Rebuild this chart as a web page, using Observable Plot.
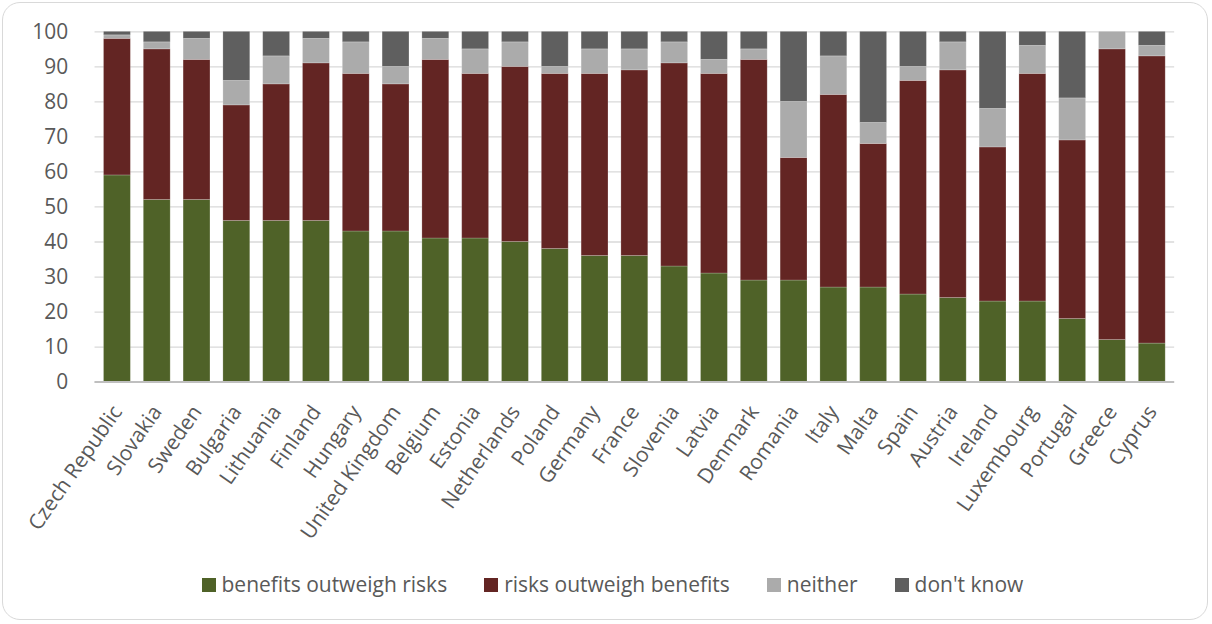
<!DOCTYPE html>
<html>
<head>
<meta charset="utf-8">
<script src="https://cdn.jsdelivr.net/npm/d3@7"></script>
<script src="https://cdn.jsdelivr.net/npm/@observablehq/plot@0.6"></script>
<style>
  html, body { margin: 0; padding: 0; background: #fff; }
  #frame {
    position: relative; width: 1206px; height: 618px; margin: 2px;
    border: 1.5px solid #d9d9d9; border-radius: 18px; box-sizing: border-box; overflow: hidden;
    font-family: "Open Sans", sans-serif;
  }
  #chart { position: absolute; left: -2px; top: -2px; }
  #legend {
    position: absolute; top: 567px; left: 198.5px;
    display: flex; align-items: center; font-size: 21px; line-height: 29px; color: #595959;
    white-space: nowrap;
  }
  .item { display: flex; align-items: center; margin-right: 37px; }
  .sw { width: 14px; height: 14px; margin-right: 6px; }
</style>
</head>
<body>
<div id="frame">
  <div id="chart"></div>
  <div id="legend"></div>
</div>
<script>
const countries = ["Czech Republic","Slovakia","Sweden","Bulgaria","Lithuania","Finland","Hungary","United Kingdom","Belgium","Estonia","Netherlands","Poland","Germany","France","Slovenia","Latvia","Denmark","Romania","Italy","Malta","Spain","Austria","Ireland","Luxembourg","Portugal","Greece","Cyprus"];
const seriesNames = ["benefits outweigh risks","risks outweigh benefits","neither","don't know"];
const benefits = [59,52,52,46,46,46,43,43,41,41,40,38,36,36,33,31,29,29,27,27,25,24,23,23,18,12,11];
const risks    = [39,43,40,33,39,45,45,42,51,47,50,50,52,53,58,57,63,35,55,41,61,65,44,65,51,83,82];
const neither  = [1,2,6,7,8,7,9,5,6,7,7,2,7,6,6,4,3,16,11,6,4,8,11,8,12,5,3];
const dontKnow = [1,3,2,14,7,2,3,10,2,5,3,10,5,5,3,8,5,20,7,26,10,3,22,4,19,0,4];
const colors = ["#4f6228","#632523","#ababab","#5f5f5f"];
const yTicks = [0,10,20,30,40,50,60,70,80,90,100];

const seriesValues = [benefits, risks, neither, dontKnow];
const data = [];
countries.forEach((c, i) => {
  seriesNames.forEach((s, j) => {
    data.push({country: c, series: s, value: seriesValues[j][i]});
  });
});

const chart = Plot.plot({
  width: 1212,
  height: 560,
  marginTop: 30.5,
  marginBottom: 177.5,
  marginLeft: 94,
  marginRight: 33,
  style: { fontFamily: "'Open Sans', sans-serif", fontSize: "21px", color: "#595959", background: "transparent" },
  x: { domain: countries, padding: 0.331, paddingOuter: 0.12, label: null, tickSize: 0, tickRotate: -55, tickPadding: 26 },
  y: { domain: [0, 100], ticks: yTicks, label: null, tickSize: 0, tickPadding: 27 },
  color: { domain: seriesNames, range: colors },
  marks: [
    Plot.gridY(yTicks, { stroke: "#d9d9d9", strokeOpacity: 1, strokeWidth: 1.3 }),
    Plot.barY(data, {
      x: "country", y: "value", fill: "series",
      stroke: "#ffffff", strokeOpacity: 0.25, strokeWidth: 0.8,
      order: seriesNames
    }),
    Plot.ruleY([0], { stroke: "#bfbfbf", strokeWidth: 2 })
  ]
});
document.getElementById("chart").appendChild(chart);

const legend = document.getElementById("legend");
seriesNames.forEach((s, j) => {
  const item = document.createElement("div");
  item.className = "item";
  const sw = document.createElement("div");
  sw.className = "sw";
  sw.style.background = colors[j];
  const t = document.createElement("span");
  t.textContent = s;
  item.appendChild(sw);
  item.appendChild(t);
  legend.appendChild(item);
});
</script>
</body>
</html>
